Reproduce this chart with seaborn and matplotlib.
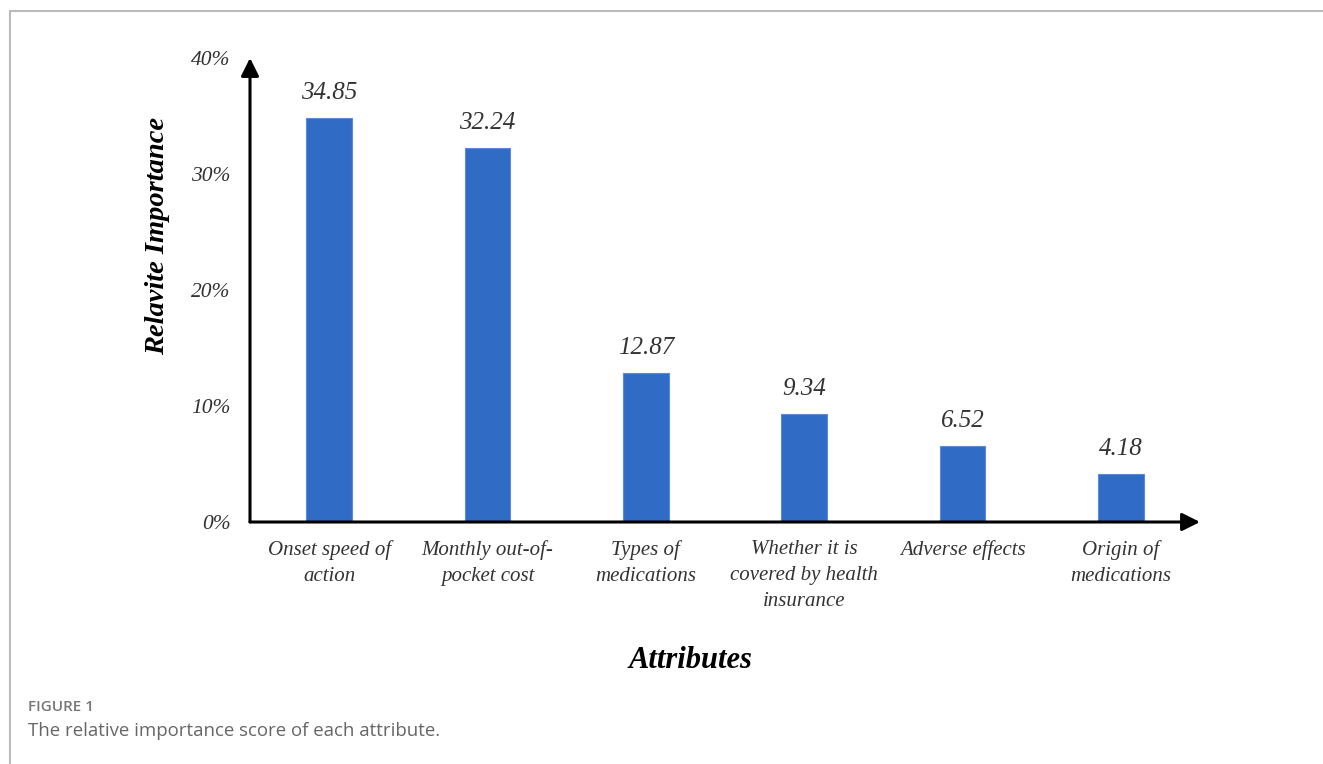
import pandas as pd
import seaborn as sns
import matplotlib.pyplot as plt
from matplotlib.lines import Line2D

# data
attributes = ['Onset speed of\naction', 'Monthly out-of-\npocket cost', 'Types of\nmedications',
              'Whether it is\ncovered by health\ninsurance', 'Adverse effects', 'Origin of\nmedications']
importance = [34.85, 32.24, 12.87, 9.34, 6.52, 4.18]
y_ticks = [0, 10, 20, 30, 40]
y_ticklabels = ['0%', '10%', '20%', '30%', '40%']

df = pd.DataFrame({'attr': attributes, 'value': importance})

sns.set_theme(style='white')
serif = ['Liberation Serif', 'DejaVu Serif']

W, H = 1323, 764
fig = plt.figure(figsize=(W / 100, H / 100), dpi=100)
# axes: x from 250 to 1200 px, y from 522 (0%) to 58 (40%)
ax = fig.add_axes([250 / W, 1 - 522 / H, (1200 - 250) / W, (522 - 58) / H])

sns.barplot(data=df, x='attr', y='value', color='#306cc6', saturation=1, width=0.29,
            edgecolor='#5b8ad6', linewidth=0.8, ax=ax)
ax.set_xlim(-0.5, 5.5)
ax.set_ylim(0, 40)
for s in ax.spines.values():
    s.set_visible(False)
ax.set_xlabel('')
ax.set_ylabel('')

ax.set_yticks(y_ticks)
ax.set_yticklabels(y_ticklabels, fontfamily=serif, fontstyle='italic', fontsize=15.5, color='#333333')
ax.set_xticks(range(len(attributes)))
ax.set_xticklabels(attributes, fontfamily=serif, fontstyle='italic', fontsize=15,
                   color='#333333', linespacing=1.5)
ax.tick_params(axis='y', length=0, pad=14)
ax.tick_params(axis='x', length=0, pad=13)
for lab in ax.get_yticklabels():
    lab.set_horizontalalignment('right')

# axis arrows
ax.annotate('', xy=(1.0, 0), xytext=(0, 0), xycoords='axes fraction',
            arrowprops=dict(arrowstyle='-|>,head_length=0.9,head_width=0.45', color='black', lw=2.2,
                            shrinkA=0, shrinkB=0), annotation_clip=False)
ax.annotate('', xy=(0, 1.0), xytext=(0, 0), xycoords='axes fraction',
            arrowprops=dict(arrowstyle='-|>,head_length=0.9,head_width=0.45', color='black', lw=2.2,
                            shrinkA=0, shrinkB=0), annotation_clip=False)

# value labels
for i, v in enumerate(importance):
    ax.annotate(f'{v:.2f}', xy=(i, v), xytext=(0, 10), textcoords='offset points',
                ha='center', va='bottom', fontfamily=serif, fontstyle='italic',
                fontsize=18, color='#333333')

# axis titles
fig.text(158 / W, 1 - 236 / H, 'Relavite Importance', rotation=90, ha='center', va='center',
         fontfamily=serif, fontstyle='italic', fontweight='bold', fontsize=20.5, color='black')
fig.text(691 / W, 1 - 660 / H, 'Attributes', ha='center', va='center',
         fontfamily=serif, fontstyle='italic', fontweight='bold', fontsize=22, color='black')

# caption frame
fig.add_artist(Line2D([10 / W, 1], [1 - 11 / H, 1 - 11 / H], color='#bbbbbb', lw=1.5,
                      transform=fig.transFigure))
fig.add_artist(Line2D([10 / W, 10 / W], [0, 1 - 11 / H], color='#bbbbbb', lw=1.5,
                      transform=fig.transFigure))
fig.text(28 / W, 1 - 707 / H, 'FIGURE 1', ha='left', va='center', fontfamily='Open Sans',
         fontweight='semibold', fontsize=11, color='#777777')
fig.text(28 / W, 1 - 731 / H, 'The relative importance score of each attribute.', ha='left',
         va='center', fontfamily='Open Sans', fontsize=13.4, color='#666666')

fig.savefig('out.png', dpi=100)
